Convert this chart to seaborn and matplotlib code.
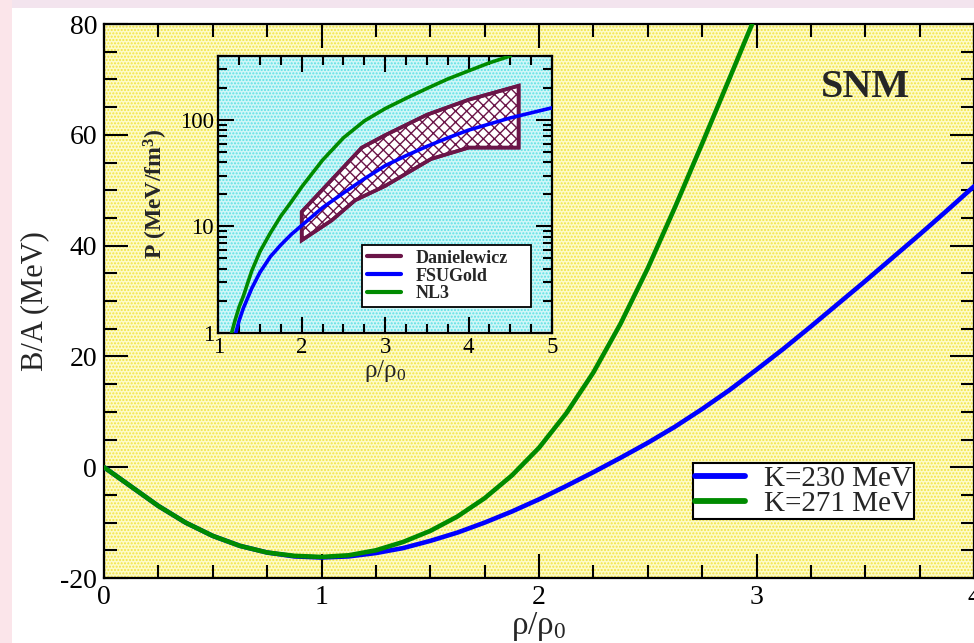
import numpy as np
import pandas as pd
import matplotlib
matplotlib.use('Agg')
import matplotlib.pyplot as plt
import seaborn as sns
from matplotlib.lines import Line2D
from matplotlib.patches import Rectangle, Polygon
from matplotlib.ticker import MultipleLocator, LogLocator, NullFormatter, FixedLocator

# main panel: binding energy per nucleon in symmetric nuclear matter
rho_k230 = [0, 0.125, 0.25, 0.375, 0.5, 0.625, 0.75, 0.875, 1.0, 1.125, 1.25, 1.375,
            1.5, 1.625, 1.75, 1.875, 2.0, 2.125, 2.25, 2.375, 2.5, 2.625, 2.75, 2.875,
            3.0, 3.125, 3.25, 3.375, 3.5, 3.625, 3.75, 3.875, 4.0]
ba_k230 = [0, -3.5, -7.0, -10.0, -12.4, -14.2, -15.4, -16.1, -16.3, -16.1, -15.5, -14.6,
           -13.3, -11.8, -10.0, -8.0, -5.8, -3.4, -0.9, 1.7, 4.4, 7.3, 10.5, 13.9,
           17.6, 21.4, 25.4, 29.5, 33.6, 37.8, 42.0, 46.3, 50.7]
rho_k271 = [0, 0.125, 0.25, 0.375, 0.5, 0.625, 0.75, 0.875, 1.0, 1.125, 1.25, 1.375,
            1.5, 1.625, 1.75, 1.875, 2.0, 2.125, 2.25, 2.375, 2.5, 2.625, 2.75, 2.875,
            3.0]
ba_k271 = [0, -3.5, -7.0, -10.0, -12.4, -14.2, -15.4, -16.0, -16.2, -15.9, -15.0, -13.5,
           -11.5, -8.9, -5.6, -1.5, 3.5, 9.7, 17.1, 25.9, 35.9, 46.9, 58.4, 70.1,
           81.9]

# inset: pressure vs density
rho_fsu = [1.21, 1.25, 1.3, 1.4, 1.5, 1.625, 1.75, 1.875, 2.0, 2.25, 2.5, 2.75,
           3.0, 3.25, 3.5, 3.75, 4.0, 4.5, 5.0]
p_fsu = [1.0, 1.3, 1.7, 2.6, 3.7, 5.2, 6.7, 8.4, 10.2, 15.0, 20.6, 28.0,
         37.2, 46.2, 56.5, 67.9, 80.4, 104.7, 130.3]
rho_nl3 = [1.16, 1.2, 1.25, 1.3, 1.4, 1.5, 1.625, 1.75, 1.875, 2.0, 2.25, 2.5,
           2.75, 3.0, 3.25, 3.5, 3.75, 4.0, 4.25, 4.5]
p_nl3 = [1.0, 1.3, 1.75, 2.2, 3.8, 5.8, 8.7, 12.5, 17.0, 23.5, 42.0, 68.0,
         98.0, 128.0, 160.0, 198.0, 243.0, 290.0, 345.0, 400.0]
# Danielewicz flow constraint band (upper edge, then lower edge back)
band_rho = [2.0, 2.72, 3.0, 3.5, 4.0, 4.6, 4.6, 4.0, 3.55, 3.0, 2.64, 2.36, 2.0]
band_p = [13.7, 55.0, 72.0, 112.0, 155.0, 210.0, 55.0, 55.0, 43.0, 24.0, 17.6, 11.4, 7.4]

main_labels = ['K=230 MeV', 'K=271 MeV']
inset_labels = ['Danielewicz', 'FSUGold', 'NL3']

blue = '#0000ff'
green = '#008b00'
maroon = '#6b1548'

sns.set_style('ticks')
plt.rcParams['font.family'] = ['Liberation Serif', 'DejaVu Serif']
plt.rcParams['mathtext.fontset'] = 'custom'
plt.rcParams['mathtext.rm'] = 'Liberation Serif'
plt.rcParams['mathtext.it'] = 'Liberation Serif:italic'
plt.rcParams['mathtext.bf'] = 'Liberation Serif:bold'
plt.rcParams['axes.unicode_minus'] = False

fig = plt.figure(figsize=(9.74, 6.43), dpi=100)
fig.patch.set_facecolor('white')
fig.patches.append(Rectangle((0, 1 - 8 / 643), 1, 8 / 643, transform=fig.transFigure,
                             facecolor='#f3e4ee', edgecolor='none', zorder=-10))
fig.patches.append(Rectangle((0, 0), 12 / 974, 1, transform=fig.transFigure,
                             facecolor='#fbe5ea', edgecolor='none', zorder=-10))

ax = fig.add_axes([104 / 974, 65 / 643, 870 / 974, 554 / 643])
ax.set_facecolor('#fdfbc8')
ax.add_patch(Rectangle((0, 0), 1, 1, transform=ax.transAxes, facecolor='none',
                       edgecolor='#f3e440', hatch='.....', linewidth=0, zorder=0))

df230 = pd.DataFrame({'rho': rho_k230, 'ba': ba_k230})
df271 = pd.DataFrame({'rho': rho_k271, 'ba': ba_k271})
sns.lineplot(data=df230, x='rho', y='ba', ax=ax, color=blue, lw=3.3, sort=False,
             label=main_labels[0], zorder=3)
sns.lineplot(data=df271, x='rho', y='ba', ax=ax, color=green, lw=3.3, sort=False,
             label=main_labels[1], zorder=4)

ax.set_xlim(0, 4)
ax.set_ylim(-20, 80)
ax.xaxis.set_major_locator(MultipleLocator(1))
ax.xaxis.set_minor_locator(MultipleLocator(0.25))
ax.yaxis.set_major_locator(MultipleLocator(20))
ax.yaxis.set_minor_locator(MultipleLocator(5))
ax.tick_params(which='both', direction='in', top=True, right=True, width=1.5, colors='black')
ax.tick_params(which='major', length=17, labelsize=20, pad=5)
ax.tick_params(which='minor', length=9.5)
for s in ax.spines.values():
    s.set_linewidth(1.6)
    s.set_color('black')
ax.set_xlabel(r'ρ/ρ$_0$', fontsize=24, labelpad=0)
ax.set_ylabel('B/A (MeV)', fontsize=22, labelpad=8)
ax.text(3.5, 68.5, 'SNM', fontsize=29, fontweight='bold', ha='center', va='center')

leg = ax.legend(loc='upper left', bbox_to_anchor=(589 / 870, (578 - 463) / 554),
                fontsize=21, frameon=True, fancybox=False, handlelength=1.7,
                handletextpad=0.65, labelspacing=-0.05, borderpad=0.08, borderaxespad=0)
leg.get_frame().set_edgecolor('black')
leg.get_frame().set_linewidth(1.5)
leg.get_frame().set_alpha(1)
for h in leg.get_lines():
    h.set_linewidth(4.2)

# inset
axi = fig.add_axes([218.3 / 974, 1 - 332.7 / 643, 333.7 / 974, 276.7 / 643])
axi.set_facecolor('#d0f7f7')
axi.add_patch(Rectangle((0, 0), 1, 1, transform=axi.transAxes, facecolor='none',
                        edgecolor='#5de0e6', hatch='.....', linewidth=0, zorder=0))
axi.set_yscale('log')
axi.add_patch(Polygon(np.column_stack([band_rho, band_p]), closed=True, facecolor='white',
                      edgecolor=maroon, hatch='xxx', linewidth=2.6, zorder=2))
axi.add_patch(Polygon(np.column_stack([band_rho, band_p]), closed=True, facecolor='none',
                      edgecolor=maroon, linewidth=2.6, zorder=2.5))
dfsu = pd.DataFrame({'rho': rho_fsu, 'p': p_fsu})
dnl3 = pd.DataFrame({'rho': rho_nl3, 'p': p_nl3})
sns.lineplot(data=dfsu, x='rho', y='p', ax=axi, color=blue, lw=2.6, sort=False, zorder=3)
sns.lineplot(data=dnl3, x='rho', y='p', ax=axi, color=green, lw=2.6, sort=False, zorder=3)
axi.set_xlim(1, 5)
axi.set_ylim(1, 400)
axi.xaxis.set_major_locator(MultipleLocator(1))
axi.xaxis.set_minor_locator(MultipleLocator(0.25))
axi.yaxis.set_major_locator(FixedLocator([1, 10, 100]))
axi.yaxis.set_minor_locator(LogLocator(base=10, subs=np.arange(2, 10)))
axi.yaxis.set_minor_formatter(NullFormatter())
axi.set_yticklabels(['1', '10', '100'])
axi.tick_params(which='both', direction='in', top=True, right=True, width=1.5, colors='black')
axi.tick_params(which='major', length=11.5, labelsize=16.5, pad=3)
axi.tick_params(which='minor', length=6.5)
for s in axi.spines.values():
    s.set_linewidth(1.6)
    s.set_color('black')
axi.set_xlabel(r'ρ/ρ$_0$', fontsize=18, labelpad=0)
axi.set_ylabel(r'P (MeV/fm$^{\mathbf{3}}$)', fontsize=17, fontweight='bold', labelpad=7)

handles = [Line2D([], [], color=maroon, lw=3),
           Line2D([], [], color=blue, lw=3),
           Line2D([], [], color=green, lw=3)]
legi = axi.legend(handles, inset_labels, loc='lower left',
                  bbox_to_anchor=(0.431, 0.093, 0.506, 0.238), mode='expand',
                  prop={'family': 'Liberation Serif', 'weight': 'bold', 'size': 13},
                  frameon=True, fancybox=False, handlelength=1.9, handletextpad=0.8,
                  labelspacing=0.05, borderpad=0.25, borderaxespad=0)
legi.get_frame().set_edgecolor('black')
legi.get_frame().set_linewidth(1.3)
legi.get_frame().set_alpha(1)

fig.savefig('out.png', dpi=100, facecolor=fig.get_facecolor())
